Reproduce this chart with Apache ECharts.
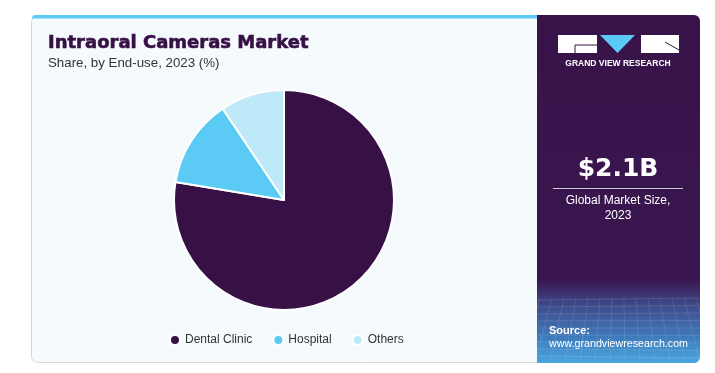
<!DOCTYPE html>
<html><head><meta charset="utf-8">
<script src="https://cdn.jsdelivr.net/npm/echarts@6/dist/echarts.min.js"></script>
<style>html,body{margin:0;padding:0;background:#fff;}#c{width:715px;height:373px;}</style>
</head><body><div id="c"></div>
<script>
const categories = ['Dental Clinic', 'Hospital', 'Others'];
const shares = [77.6, 13.0, 9.4];
const colors = ['#371146', '#5BCBF5', '#BDE9F9'];
const title = 'Intraoral Cameras Market';
const subtitle = 'Share, by End-use, 2023 (%)';
const marketSize = '$2.1B';
const marketLabel1 = 'Global Market Size,';
const marketLabel2 = '2023';

const FONT = '"Liberation Sans", Arial, sans-serif';
const chart = echarts.init(document.getElementById('c'), null, {renderer: 'canvas'});

const mesh = [];
for (let i = 0; i < 9; i++) {
  mesh.push({type: 'line', silent: true, shape: {x1: 538, y1: 300 + i * 7, x2: 699, y2: 298 + i * 7.5},
    style: {stroke: 'rgba(255,255,255,0.12)', lineWidth: 1}});
}
for (let i = 0; i < 14; i++) {
  mesh.push({type: 'line', silent: true, shape: {x1: 540 + i * 12, y1: 298, x2: 520 + i * 15, y2: 362},
    style: {stroke: 'rgba(255,255,255,0.10)', lineWidth: 1}});
}

chart.setOption({
  animation: false,
  color: colors,
  graphic: [
    {type: 'rect', silent: true, shape: {x: 31.5, y: 15.5, width: 668, height: 347, r: 6},
      style: {fill: '#F5FAFD', stroke: '#D6D9DC', lineWidth: 1}},
    {type: 'rect', silent: true, shape: {x: 32, y: 15, width: 506, height: 3.5, r: [5, 0, 0, 0]},
      style: {fill: '#5BCBF5'}},
    {type: 'rect', silent: true, shape: {x: 537, y: 15, width: 163, height: 348, r: [0, 6, 6, 0]},
      style: {fill: new echarts.graphic.LinearGradient(0, 0, 0, 1, [
        {offset: 0, color: '#381349'}, {offset: 0.76, color: '#3A1650'},
        {offset: 0.84, color: '#3F4E8E'}, {offset: 0.93, color: '#3F7DBE'}, {offset: 1, color: '#4AA6DE'}])}},
    ...mesh,
    {type: 'rect', silent: true, shape: {x: 558, y: 35, width: 39, height: 18}, style: {fill: '#ffffff'}},
    {type: 'polygon', silent: true, shape: {points: [[600, 35], [635, 35], [617.5, 53]]}, style: {fill: '#5BCBF5'}},
    {type: 'rect', silent: true, shape: {x: 641, y: 35, width: 38, height: 18}, style: {fill: '#ffffff'}},
    {type: 'line', silent: true, shape: {x1: 575, y1: 45, x2: 597, y2: 45}, style: {stroke: '#381349', lineWidth: 1}},
    {type: 'line', silent: true, shape: {x1: 575, y1: 45, x2: 575, y2: 53}, style: {stroke: '#381349', lineWidth: 1}},
    {type: 'line', silent: true, shape: {x1: 665, y1: 42, x2: 679, y2: 50}, style: {stroke: '#381349', lineWidth: 1}},
    {type: 'text', silent: true, style: {text: 'GRAND VIEW RESEARCH', x: 618, y: 64, align: 'center', verticalAlign: 'middle',
      fill: '#ffffff', font: 'bold 8.5px ' + FONT}},
    {type: 'text', silent: true, style: {text: marketSize, x: 618, y: 169, align: 'center', verticalAlign: 'middle',
      fill: '#ffffff', font: 'bold 25px "DejaVu Sans", ' + FONT}},
    {type: 'line', silent: true, shape: {x1: 553, y1: 188.5, x2: 683, y2: 188.5}, style: {stroke: '#cfc6d8', lineWidth: 1}},
    {type: 'text', silent: true, style: {text: marketLabel1, x: 618, y: 201, align: 'center', verticalAlign: 'middle',
      fill: '#ffffff', font: '12px ' + FONT}},
    {type: 'text', silent: true, style: {text: marketLabel2, x: 618, y: 216, align: 'center', verticalAlign: 'middle',
      fill: '#ffffff', font: '12px ' + FONT}},
    {type: 'text', silent: true, style: {text: 'Source:', x: 549, y: 331, verticalAlign: 'middle',
      fill: '#ffffff', font: 'bold 11px ' + FONT}},
    {type: 'text', silent: true, style: {text: 'www.grandviewresearch.com', x: 549, y: 344, verticalAlign: 'middle',
      fill: '#ffffff', font: '10.7px ' + FONT}},
    {type: 'text', silent: true, style: {text: title, x: 48, y: 43, verticalAlign: 'middle',
      fill: '#371146', font: 'bold 18px "DejaVu Sans", ' + FONT, stroke: '#371146', lineWidth: 0.6}},
    {type: 'text', silent: true, style: {text: subtitle, x: 48, y: 63, verticalAlign: 'middle',
      fill: '#333333', font: '13.3px ' + FONT}}
  ],
  legend: {
    data: categories, left: 164, top: 329, icon: 'circle', itemWidth: 10, itemHeight: 10, itemGap: 20,
    textStyle: {color: '#333', fontSize: 12, fontFamily: FONT}
  },
  series: [{
    type: 'pie', center: [284, 200], radius: [0, 110], startAngle: 90, clockwise: true,
    label: {show: false}, labelLine: {show: false}, silent: true,
    itemStyle: {borderColor: '#ffffff', borderWidth: 2},
    data: categories.map((n, i) => ({name: n, value: shares[i]}))
  }]
});
</script></body></html>
